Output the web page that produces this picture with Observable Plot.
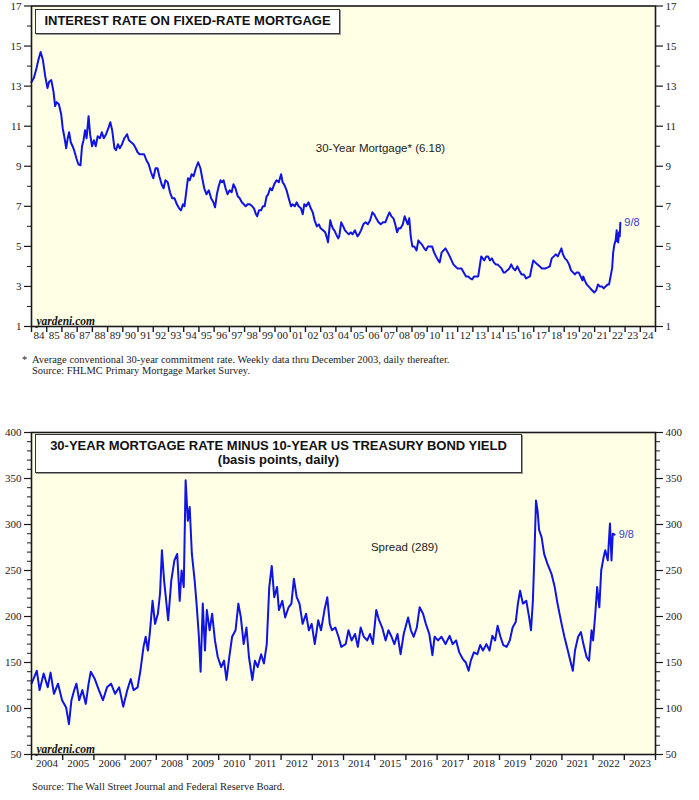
<!DOCTYPE html>
<html><head><meta charset="utf-8">
<script src="https://cdn.jsdelivr.net/npm/d3@7"></script>
<script src="https://cdn.jsdelivr.net/npm/@observablehq/plot@0.6"></script>
<style>
body{margin:0;background:#fff;width:699px;height:800px;position:relative;overflow:hidden;font-family:"Liberation Serif","Times New Roman",serif;color:#222;}
.abs{position:absolute;}
.titlebox{position:absolute;box-sizing:border-box;background:#fff;border:1.6px solid #333;box-shadow:1px 1px 0 #999;font-family:"Liberation Sans",Arial,sans-serif;font-weight:bold;color:#111;text-align:center;font-size:13px;}
.note{position:absolute;font-size:10.5px;line-height:11px;color:#222;white-space:nowrap;font-family:"Liberation Serif","Times New Roman",serif;}
</style></head><body>
<div id="top" class="abs" style="left:0;top:0"></div>
<div id="bottom" class="abs" style="left:0;top:400px"></div>
<div class="titlebox" style="left:35px;top:9px;width:305px;height:25px;line-height:22px;">INTEREST RATE ON FIXED-RATE MORTGAGE</div>
<div class="titlebox" style="left:35px;top:434px;width:487px;height:39px;line-height:14px;padding-top:4px;">30-YEAR MORTGAGE RATE MINUS 10-YEAR US TREASURY BOND YIELD<br>(basis points, daily)</div>
<div class="note" style="left:22px;top:354px;">*</div>
<div class="note" style="left:32px;top:354px;">Average conventional 30-year commitment rate. Weekly data thru December 2003, daily thereafter.<br>Source: FHLMC Primary Mortgage Market Survey.</div>
<div class="note" style="left:32px;top:781px;">Source: The Wall Street Journal and Federal Reserve Board.</div>
<script>
// ---- Top chart data: 30-year fixed mortgage rate (%) ----
const mortgageDates = [1984.00,1984.15,1984.30,1984.45,1984.60,1984.75,1984.90,1985.05,1985.15,1985.30,1985.45,1985.55,1985.65,1985.80,1985.95,1986.05,1986.15,1986.28,1986.38,1986.47,1986.58,1986.70,1986.80,1986.95,1987.08,1987.22,1987.32,1987.42,1987.52,1987.62,1987.75,1987.85,1987.98,1988.10,1988.22,1988.35,1988.50,1988.62,1988.75,1988.90,1989.05,1989.18,1989.30,1989.45,1989.55,1989.68,1989.80,1989.95,1990.10,1990.28,1990.40,1990.55,1990.70,1990.85,1990.97,1991.10,1991.25,1991.40,1991.55,1991.70,1991.85,1992.00,1992.15,1992.28,1992.40,1992.55,1992.68,1992.80,1992.95,1993.10,1993.25,1993.40,1993.55,1993.70,1993.82,1993.95,1994.05,1994.18,1994.28,1994.40,1994.52,1994.65,1994.80,1994.95,1995.10,1995.22,1995.35,1995.50,1995.65,1995.80,1995.95,1996.06,1996.18,1996.30,1996.42,1996.52,1996.62,1996.75,1996.88,1997.02,1997.15,1997.27,1997.40,1997.55,1997.68,1997.82,1997.95,1998.07,1998.20,1998.35,1998.50,1998.62,1998.75,1998.83,1998.95,1999.08,1999.20,1999.32,1999.45,1999.55,1999.68,1999.80,1999.95,2000.10,2000.25,2000.40,2000.50,2000.60,2000.76,2000.90,2001.05,2001.15,2001.30,2001.42,2001.55,2001.70,2001.82,2001.92,2002.05,2002.20,2002.35,2002.48,2002.60,2002.75,2002.88,2003.00,2003.15,2003.30,2003.42,2003.48,2003.55,2003.63,2003.70,2003.80,2003.90,2004.02,2004.15,2004.22,2004.35,2004.48,2004.60,2004.72,2004.85,2004.98,2005.10,2005.25,2005.42,2005.52,2005.65,2005.80,2005.95,2006.10,2006.25,2006.40,2006.52,2006.65,2006.80,2006.95,2007.10,2007.25,2007.40,2007.52,2007.65,2007.78,2007.90,2008.02,2008.12,2008.25,2008.40,2008.52,2008.62,2008.72,2008.82,2008.92,2009.02,2009.15,2009.30,2009.42,2009.52,2009.65,2009.80,2009.92,2010.05,2010.20,2010.32,2010.45,2010.58,2010.72,2010.82,2010.95,2011.08,2011.20,2011.35,2011.48,2011.60,2011.72,2011.85,2011.98,2012.12,2012.25,2012.40,2012.55,2012.70,2012.82,2012.95,2013.08,2013.22,2013.35,2013.45,2013.55,2013.65,2013.75,2013.88,2014.00,2014.12,2014.25,2014.38,2014.50,2014.62,2014.75,2014.88,2015.02,2015.12,2015.25,2015.40,2015.52,2015.65,2015.78,2015.92,2016.05,2016.20,2016.35,2016.50,2016.62,2016.75,2016.88,2016.97,2017.10,2017.25,2017.40,2017.52,2017.65,2017.78,2017.92,2018.05,2018.18,2018.32,2018.45,2018.58,2018.70,2018.82,2018.92,2019.05,2019.18,2019.32,2019.45,2019.58,2019.70,2019.82,2019.95,2020.08,2020.20,2020.25,2020.35,2020.48,2020.60,2020.72,2020.85,2020.98,2021.10,2021.22,2021.35,2021.48,2021.60,2021.72,2021.85,2021.95,2022.05,2022.15,2022.22,2022.30,2022.38,2022.45,2022.48,2022.55,2022.60,2022.65,2022.69];
const mortgageRates = [13.2,13.4,13.8,14.3,14.7,14.3,13.5,12.9,13.2,13.3,12.7,12.0,12.2,12.1,11.6,10.9,10.5,9.9,10.4,10.7,10.2,10.0,9.8,9.4,9.1,9.05,10.0,10.3,10.8,10.4,11.5,10.6,10.0,10.3,10.0,10.5,10.4,10.7,10.4,10.6,10.9,11.2,10.8,9.9,9.8,10.1,9.9,10.1,10.4,10.6,10.3,10.2,10.1,9.9,9.7,9.6,9.6,9.6,9.3,9.1,8.7,8.4,8.9,8.9,8.5,8.1,7.9,8.3,8.2,7.7,7.4,7.4,7.1,6.9,6.8,7.1,7.0,7.8,8.4,8.3,8.6,8.5,8.9,9.2,8.9,8.4,7.9,7.6,7.8,7.4,7.2,6.95,7.6,8.0,8.3,8.2,8.3,7.9,7.6,7.8,7.7,8.1,7.9,7.5,7.4,7.2,7.1,7.0,7.1,7.1,7.0,6.9,6.6,6.5,6.8,6.8,7.0,7.0,7.5,7.6,7.9,7.8,8.1,8.3,8.2,8.6,8.2,8.1,7.8,7.4,7.0,7.1,7.0,7.2,7.0,6.9,6.6,7.1,7.0,7.2,6.9,6.7,6.3,6.0,6.1,5.9,5.8,5.7,5.4,5.2,5.7,6.3,6.1,5.9,5.8,5.6,5.4,5.5,6.2,6.0,5.8,5.7,5.6,5.7,5.6,5.8,5.5,5.6,5.8,6.1,6.2,6.1,6.3,6.7,6.6,6.4,6.2,6.1,6.2,6.2,6.5,6.7,6.5,6.4,6.1,5.7,5.9,5.9,6.1,6.5,6.3,6.1,6.4,5.5,5.0,5.0,4.8,5.3,5.2,5.1,4.9,4.8,5.0,5.0,5.0,4.7,4.5,4.3,4.2,4.7,4.8,4.9,4.7,4.5,4.3,4.1,4.0,3.9,3.9,3.9,3.7,3.5,3.5,3.4,3.35,3.5,3.5,3.5,4.0,4.5,4.4,4.3,4.5,4.5,4.3,4.4,4.2,4.1,4.1,4.0,3.9,3.7,3.7,3.8,3.9,4.1,3.9,3.8,4.0,3.8,3.6,3.6,3.4,3.45,3.5,4.0,4.3,4.2,4.1,4.0,3.9,3.9,3.9,3.95,4.0,4.4,4.5,4.6,4.5,4.7,4.9,4.6,4.4,4.3,4.1,3.8,3.7,3.6,3.7,3.7,3.5,3.3,3.5,3.3,3.1,3.0,2.9,2.8,2.7,2.8,3.1,3.0,3.0,2.9,3.0,3.1,3.1,3.5,3.9,4.7,5.1,5.3,5.8,5.3,5.2,5.7,5.5,6.18];

// ---- Bottom chart data: spread (basis points) ----
const spreadDates = [2004.00,2004.17,2004.26,2004.39,2004.52,2004.61,2004.72,2004.85,2004.98,2005.11,2005.20,2005.28,2005.37,2005.44,2005.53,2005.63,2005.74,2005.83,2005.90,2006.03,2006.16,2006.29,2006.42,2006.55,2006.68,2006.81,2006.94,2007.07,2007.18,2007.27,2007.40,2007.49,2007.59,2007.66,2007.73,2007.79,2007.88,2007.96,2008.05,2008.12,2008.18,2008.25,2008.38,2008.48,2008.58,2008.67,2008.75,2008.81,2008.88,2008.94,2009.01,2009.07,2009.14,2009.23,2009.29,2009.36,2009.42,2009.49,2009.56,2009.62,2009.71,2009.79,2009.88,2009.97,2010.08,2010.17,2010.25,2010.34,2010.43,2010.54,2010.63,2010.71,2010.80,2010.89,2010.97,2011.08,2011.16,2011.25,2011.36,2011.45,2011.54,2011.62,2011.70,2011.78,2011.87,2011.93,2012.04,2012.13,2012.24,2012.33,2012.41,2012.50,2012.59,2012.69,2012.80,2012.89,2012.98,2013.08,2013.19,2013.28,2013.39,2013.48,2013.56,2013.63,2013.74,2013.84,2013.93,2014.07,2014.16,2014.26,2014.37,2014.46,2014.55,2014.65,2014.76,2014.85,2014.94,2015.05,2015.14,2015.24,2015.35,2015.44,2015.54,2015.63,2015.73,2015.83,2015.93,2016.07,2016.16,2016.25,2016.35,2016.44,2016.55,2016.64,2016.75,2016.85,2016.92,2017.03,2017.14,2017.27,2017.40,2017.50,2017.61,2017.71,2017.82,2017.92,2018.01,2018.08,2018.18,2018.29,2018.38,2018.47,2018.58,2018.68,2018.77,2018.86,2018.94,2019.03,2019.12,2019.23,2019.33,2019.42,2019.52,2019.59,2019.66,2019.75,2019.86,2019.95,2020.01,2020.07,2020.12,2020.17,2020.22,2020.27,2020.35,2020.43,2020.54,2020.67,2020.77,2020.86,2020.99,2021.08,2021.19,2021.27,2021.35,2021.42,2021.52,2021.61,2021.69,2021.79,2021.87,2021.95,2022.00,2022.07,2022.13,2022.20,2022.26,2022.34,2022.39,2022.47,2022.54,2022.59,2022.63,2022.69];
const spreadValues = [127,141,120,138,123,139,116,127,109,101,83,109,120,127,109,120,105,127,140,132,120,109,123,127,116,123,102,120,132,120,123,141,167,178,163,181,217,192,203,225,272,239,196,239,261,268,217,250,232,348,304,319,268,239,214,181,140,214,163,207,185,203,174,156,145,152,131,156,178,185,214,199,170,188,156,131,152,145,159,149,170,232,255,221,232,207,217,199,210,214,241,221,214,192,203,185,192,170,196,185,207,221,192,185,188,178,167,170,185,174,181,167,188,178,174,181,170,207,196,188,174,185,178,170,181,159,181,199,185,178,188,210,203,192,181,158,178,174,178,170,179,170,174,161,154,150,141,152,161,159,169,163,170,163,179,174,190,178,169,167,174,188,194,214,228,214,217,199,185,217,268,326,315,294,286,268,257,246,232,214,192,178,163,152,141,163,178,183,170,156,152,185,174,203,232,210,250,265,272,261,301,261,290,289];

// ---- Axis ticks / labels ----
const mortgageMajorTicks = [1,3,5,7,9,11,13,15,17];
const mortgageMinorTicks = [2,4,6,8,10,12,14,16];
const mortgageYears = d3.range(1984, 2025);          // labelled years 84..24
const spreadMajorTicks = [50,100,150,200,250,300,350,400];
const spreadMinorTicks = d3.range(50, 401, 10);
const spreadYears = d3.range(2004, 2024);            // labelled years 2004..2023

const mortgageLabel = "30-Year Mortgage* (6.18)";
const spreadLabel = "Spread (289)";
const lastDateLabel = "9/8";

const LINE = "#0f14e0";
const BG = "#ffffe6";
const AXIS = "#1a1a1a";
const SERIF = "'Liberation Serif','Times New Roman',serif";
const SANS = "'Liberation Sans',Arial,sans-serif";

function chart({dates, values, years, yearFmt, yDomain, major, minor, height, marginTop, marginBottom, strokeWidth, label, labelDx, labelDy}) {
  const data = dates.map((d, i) => ({x: d, y: values[i]}));
  const last = data[data.length - 1];
  const x0 = years[0], x1 = years[years.length - 1] + 1;
  return Plot.plot({
    width: 699, height, marginLeft: 31, marginRight: 44, marginTop, marginBottom,
    style: {fontFamily: SERIF, fontSize: "11px", color: "#222", background: "transparent", overflow: "visible"},
    x: {domain: [x0, x1]},
    y: {domain: yDomain},
    marks: [
      Plot.frame({fill: BG}),
      Plot.line(data, {x: "x", y: "y", stroke: LINE, strokeWidth, strokeLinejoin: "round"}),
      Plot.text([label], {frameAnchor: "top-left", dx: labelDx, dy: labelDy, text: d => d, textAnchor: "middle",
        fontFamily: SANS, fontSize: 11.5, fill: "#222"}),
      Plot.text([last], {x: "x", y: "y", text: () => lastDateLabel, dx: 4, dy: 0, textAnchor: "start",
        fontFamily: SANS, fontSize: 11, fill: "#3a3ad0"}),
      Plot.text(["yardeni.com"], {frameAnchor: "bottom-left", dx: 5, dy: -2, text: d => d, lineAnchor: "bottom", textAnchor: "start",
        fontFamily: SERIF, fontStyle: "italic", fontWeight: "bold", fontSize: 11.5, fill: "#111"}),
      Plot.frame({stroke: AXIS, strokeWidth: 1.6}),
      Plot.axisY({anchor: "left", ticks: major, tickSize: 7, tickPadding: 3, label: null, tickFormat: d => d, stroke: AXIS, strokeWidth: 1.2, fontFamily: SERIF, fontSize: 11, fill: "#222"}),
      Plot.axisY({anchor: "left", ticks: minor, tickSize: 4, label: null, tickFormat: () => "", stroke: AXIS}),
      Plot.axisY({anchor: "right", ticks: major, tickSize: 7, tickPadding: 3, label: null, tickFormat: d => d, stroke: AXIS, strokeWidth: 1.2, fontFamily: SERIF, fontSize: 11, fill: "#222"}),
      Plot.axisY({anchor: "right", ticks: minor, tickSize: 4, label: null, tickFormat: () => "", stroke: AXIS}),
      Plot.axisX({anchor: "bottom", ticks: d3.range(x0, x1 + 1), tickSize: 6, label: null, tickFormat: () => "", stroke: AXIS, strokeWidth: 1.4}),
      Plot.axisX({anchor: "bottom", ticks: years.map(y => y + 0.5), tickSize: 0, tickPadding: 5, label: null, tickFormat: d => yearFmt(Math.floor(d)), fontFamily: SERIF, fontSize: 11, fill: "#222"})
    ]
  });
}

document.getElementById("top").append(chart({
  dates: mortgageDates, values: mortgageRates, years: mortgageYears,
  yearFmt: y => String(y).slice(2), yDomain: [1, 17],
  major: mortgageMajorTicks, minor: mortgageMinorTicks,
  height: 345, marginTop: 5.5, marginBottom: 19, strokeWidth: 2,
  label: mortgageLabel, labelDx: 349, labelDy: 138
}));

document.getElementById("bottom").append(chart({
  dates: spreadDates, values: spreadValues, years: spreadYears,
  yearFmt: y => String(y), yDomain: [50, 400],
  major: spreadMajorTicks, minor: spreadMinorTicks,
  height: 372, marginTop: 32, marginBottom: 18, strokeWidth: 2,
  label: spreadLabel, labelDx: 373, labelDy: 110
}));
</script>
</body></html>
